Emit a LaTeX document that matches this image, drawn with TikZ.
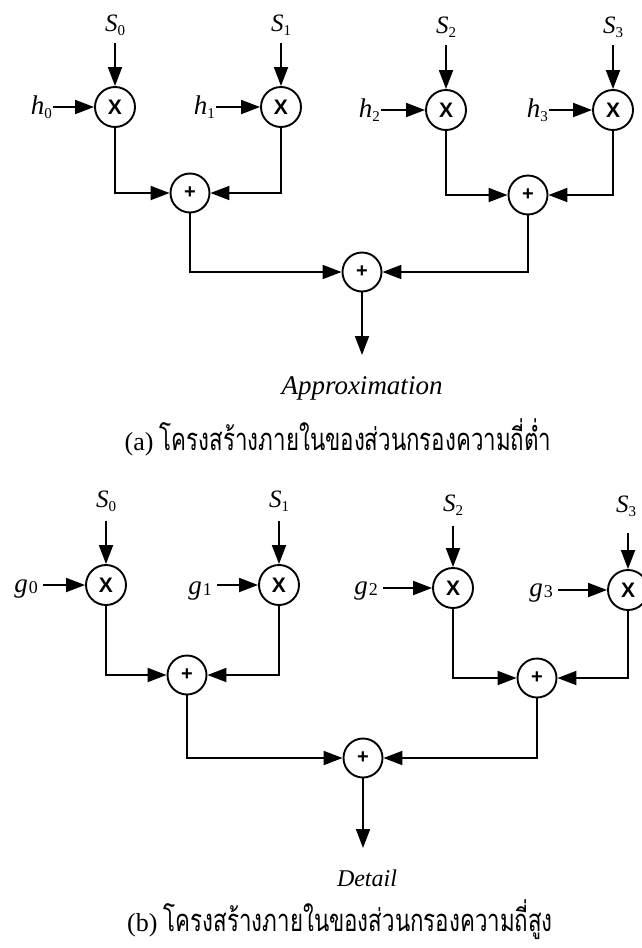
\documentclass[tikz,border=0pt]{standalone}
\usepackage{fontspec}
\setmainfont{Liberation Serif}
\newfontfamily\thaifont[Script=Thai]{Loma}
\newfontfamily\opfont{Liberation Sans}
\usetikzlibrary{arrows.meta}

% italic symbol with an upright subscript digit
\newcommand{\sig}[2]{\textit{#1}\raisebox{-0.35ex}{\fontsize{15}{15}\selectfont #2}}
\newcommand{\gsig}[2]{\textit{#1}\kern1pt\raisebox{-0.1ex}{\fontsize{18}{18}\selectfont #2}}
\newcommand{\thaicap}[1]{\scalebox{0.72}[1]{\thaifont\fontsize{31}{31}\selectfont #1}}

\tikzset{
  mult/.style={circle, draw, line width=1.9pt, minimum size=40pt, inner sep=0pt,
    font=\opfont\bfseries\fontsize{21}{21}\selectfont},
  adder/.style={mult, minimum size=39pt, font=\opfont\bfseries\fontsize{20}{20}\selectfont},
  wire/.style={line width=1.9pt},
  arr/.style={wire, -{Triangle[length=19pt,width=14pt]}},
  lab/.style={inner sep=0pt, anchor=base, font=\fontsize{25}{25}\selectfont},
  inlab/.style={inner sep=0pt, anchor=base east, font=\fontsize{27}{27}\selectfont},
  outlab/.style={inner sep=0pt, font=\itshape\fontsize{27}{27}\selectfont},
  caption/.style={inner sep=0pt, font=\fontsize{26}{26}\selectfont}
}

\begin{document}
\begin{tikzpicture}[x=1pt, y=-1pt]
\useasboundingbox (0,0) rectangle (641,948);

% ---------- (a) low-pass filter ----------
\node[lab] (as0) at (115,31) {\sig{S}{0}};
\node[lab] (as1) at (281,31) {\sig{S}{1}};
\node[lab] (as2) at (446,33) {\sig{S}{2}};
\node[lab] (as3) at (613,33) {\sig{S}{3}};
\coordinate (at0) at (115,43);
\coordinate (at1) at (281,43);
\coordinate (at2) at (446,45);
\coordinate (at3) at (613,45);

\node[mult] (ax0) at (115,107) {X};
\node[mult] (ax1) at (281,107) {X};
\node[mult] (ax2) at (446,110) {X};
\node[mult] (ax3) at (613,110) {X};

\node[inlab] (ah0) at (52,114) {\sig{h}{0}};
\node[inlab] (ah1) at (215,114) {\sig{h}{1}};
\node[inlab] (ah2) at (380,117) {\sig{h}{2}};
\node[inlab] (ah3) at (548,117) {\sig{h}{3}};

\node[adder] (aa0) at (190,193) {+};
\node[adder] (aa1) at (528,195) {+};
\node[adder] (aout) at (362,272) {+};
\coordinate (aend) at (362,355);
\node[outlab] (aname) at (362,388) {Approximation};
\node[caption] (acap) at (338,437) {(a) \thaicap{โครงสร้างภายในของส่วนกรองความถี่ต่ำ}};

\foreach \i in {0,1,2,3} {
  \draw[arr] (at\i) -- (ax\i.north);
  \draw[arr] ([xshift=1pt]ah\i.east |- ax\i.west) -- (ax\i.west);
}
\draw[arr] (ax0.south) |- (aa0.west);
\draw[arr] (ax1.south) |- (aa0.east);
\draw[arr] (ax2.south) |- (aa1.west);
\draw[arr] (ax3.south) |- (aa1.east);
\draw[arr] (aa0.south) |- (aout.west);
\draw[arr] (aa1.south) |- (aout.east);
\draw[arr] (aout.south) -- (aend);

% ---------- (b) high-pass filter ----------
\node[lab] (bs0) at (106,507) {\sig{S}{0}};
\node[lab] (bs1) at (279,507) {\sig{S}{1}};
\node[lab] (bs2) at (453,511) {\sig{S}{2}};
\node[lab] (bs3) at (626,512) {\sig{S}{3}};
\coordinate (bt0) at (106,521);
\coordinate (bt1) at (279,521);
\coordinate (bt2) at (453,526);
\coordinate (bt3) at (628,533);

\node[mult] (bx0) at (106,585) {X};
\node[mult] (bx1) at (279,585) {X};
\node[mult] (bx2) at (453,588) {X};
\node[mult] (bx3) at (628,590) {X};

\node[inlab] (bg0) at (38,592) {\gsig{g}{0}};
\node[inlab] (bg1) at (212,594) {\gsig{g}{1}};
\node[inlab] (bg2) at (378,594) {\gsig{g}{2}};
\node[inlab] (bg3) at (553,596) {\gsig{g}{3}};

\node[adder] (ba0) at (187,675) {+};
\node[adder] (ba1) at (537,678) {+};
\node[adder] (bout) at (363,758) {+};
\coordinate (bend) at (363,848);
\node[outlab, font=\itshape\fontsize{24}{24}\selectfont] (bname) at (367,878) {Detail};
\node[caption] (bcap) at (340,920) {(b) \thaicap{โครงสร้างภายในของส่วนกรองความถี่สูง}};

\foreach \i in {0,1,2,3} {
  \draw[arr] ([xshift=5pt]bg\i.east |- bx\i.west) -- (bx\i.west);
}
\foreach \i in {0,1,2,3} {
  \draw[arr] (bt\i) -- (bx\i.north);
}
\draw[arr] (bx0.south) |- (ba0.west);
\draw[arr] (bx1.south) |- (ba0.east);
\draw[arr] (bx2.south) |- (ba1.west);
\draw[arr] (bx3.south) |- (ba1.east);
\draw[arr] (ba0.south) |- (bout.west);
\draw[arr] (ba1.south) |- (bout.east);
\draw[arr] (bout.south) -- (bend);
\end{tikzpicture}
\end{document}
